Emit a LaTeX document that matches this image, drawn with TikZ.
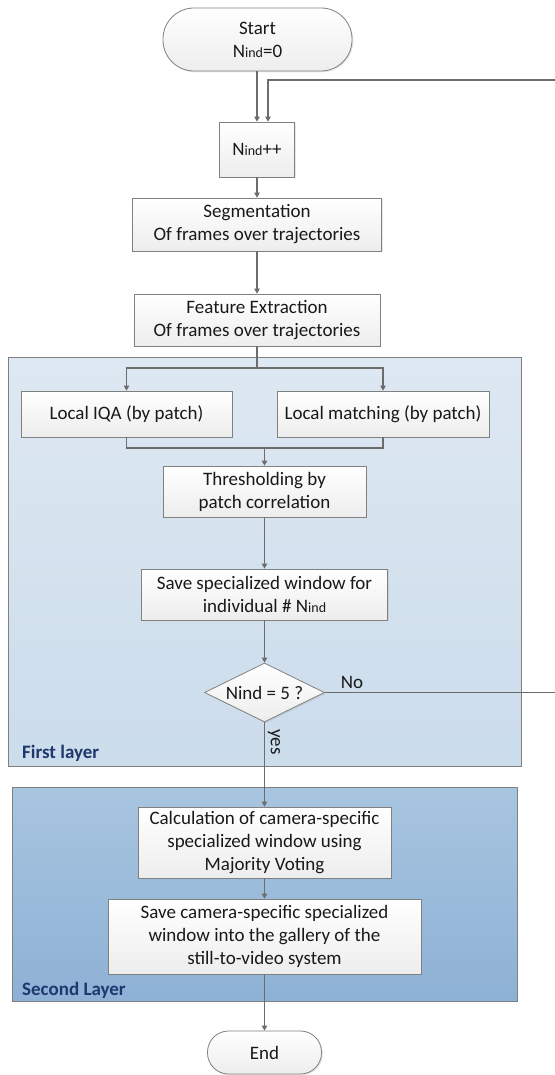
\documentclass[tikz,border=0pt]{standalone}
\usepackage{fontspec}
\setmainfont{Carlito}
\usetikzlibrary{shapes.geometric,arrows.meta,shadows}
\definecolor{linegray}{RGB}{108,108,108}
\definecolor{boxborder}{RGB}{128,128,128}
\definecolor{lay1top}{RGB}{222,232,242}
\definecolor{lay1bot}{RGB}{203,220,235}
\definecolor{lay2top}{RGB}{168,197,224}
\definecolor{lay2bot}{RGB}{141,177,213}
\definecolor{labelblue}{RGB}{31,56,110}
\newcommand\Nsub{N{\fontsize{14}{14}\selectfont ind}}
\begin{document}
\begin{tikzpicture}[x=1pt,y=-1pt,
  txt/.style={font=\fontsize{19}{23}\selectfont, text=black!90},
  proc/.style={txt, draw=boxborder, line width=0.8pt, top color=white, bottom color=black!7,
    align=center, inner sep=0pt,
    drop shadow={opacity=0.18, shadow xshift=1.3pt, shadow yshift=-1.3pt}},
  term/.style={proc},
  decide/.style={proc, diamond, aspect=2},
  layer/.style={draw=boxborder, line width=0.8pt, inner sep=0pt,
    drop shadow={opacity=0.15, shadow xshift=1.3pt, shadow yshift=-1.3pt}},
  laytext/.style={font=\fontsize{19}{23}\selectfont\bfseries, text=labelblue, anchor=west, inner sep=0pt},
  conn/.style={draw=linegray, line width=1.1pt},
  arr/.style={conn, -{Triangle[width=5.5pt,length=5pt]}}
]
\useasboundingbox (0,0) rectangle (554,1075);
\fill[white] (0,0) rectangle (554,1075);

% layer backgrounds
\node[layer, top color=lay1top, bottom color=lay1bot, minimum width=513pt, minimum height=409pt] (L1) at (264.5,561.5) {};
\node[layer, top color=lay2top, bottom color=lay2bot, minimum width=505pt, minimum height=214pt] (L2) at (264.5,894) {};
\node[laytext] (L1lab) at (22,753) {First layer};
\node[laytext] (L2lab) at (22,990) {Second Layer};

% process nodes
\node[term, rounded corners=31pt, minimum width=189pt, minimum height=63pt] (start) at (257.5,39.5) {Start\\\Nsub=0};
\node[proc, minimum width=75pt, minimum height=55pt] (inc) at (257,149.5) {\Nsub++};
\node[proc, minimum width=249pt, minimum height=53pt] (seg) at (257,224.5) {Segmentation\\Of frames over trajectories};
\node[proc, minimum width=246pt, minimum height=52pt] (feat) at (257,320) {Feature Extraction\\Of frames over trajectories};
\node[proc, minimum width=211pt, minimum height=46pt] (iqa) at (126.5,414) {Local IQA (by patch)};
\node[proc, minimum width=212pt, minimum height=46pt] (match) at (383,414) {Local matching (by patch)};
\node[proc, minimum width=203pt, minimum height=51pt] (thr) at (264.5,491.5) {Thresholding by\\patch correlation};
\node[proc, minimum width=246pt, minimum height=51pt] (save) at (264.5,594.5) {Save specialized window for\\individual \# \Nsub};
\node[decide, inner sep=0pt, minimum width=120pt, minimum height=59pt] (dec) at (264.5,692.5) {Nind = 5 ?};
\node[proc, minimum width=253pt, minimum height=71pt] (calc) at (264.5,842.5) {Calculation of camera-specific\\specialized window using\\Majority Voting};
\node[proc, minimum width=313pt, minimum height=75pt] (save2) at (264.5,936.5) {Save camera-specific specialized\\window into the gallery of the\\still-to-video system};
\node[term, rounded corners=21pt, minimum width=114pt, minimum height=43pt] (end) at (264.5,1052.5) {End};

% connectors
\coordinate (loopR) at (557,80);
\coordinate (loopIn) at (268,80);
\coordinate (br) at (257,368);
\coordinate (mg) at (264.5,448);

\draw[arr] (start.south -| inc.north) -- (inc.north);
\draw[arr] (dec.east) -- (dec.east -| loopR) -- (loopR) -- (loopIn) -- (loopIn |- inc.north);
\draw[arr] (inc.south) -- (seg.north);
\draw[arr] (seg.south) -- (feat.north);
\draw[conn] (feat.south) -- (br);
\draw[arr] (br) -| (iqa.north);
\draw[arr] (br) -| (match.north);
\draw[conn] (iqa.south) |- (mg) -| (match.south);
\draw[arr] (mg) -- (thr.north);
\draw[arr] (thr.south) -- (save.north);
\draw[arr] (save.south) -- (dec.north);
\draw[arr] (dec.south) -- (calc.north);
\draw[arr] (calc.south) -- (save2.north);
\draw[arr] (save2.south) -- (end.north);

\node[txt, inner sep=0pt] (nolab) at (352,682) {No};
\node[txt, inner sep=0pt, rotate=-90] (yeslab) at (274,742) {yes};
\end{tikzpicture}
\end{document}
